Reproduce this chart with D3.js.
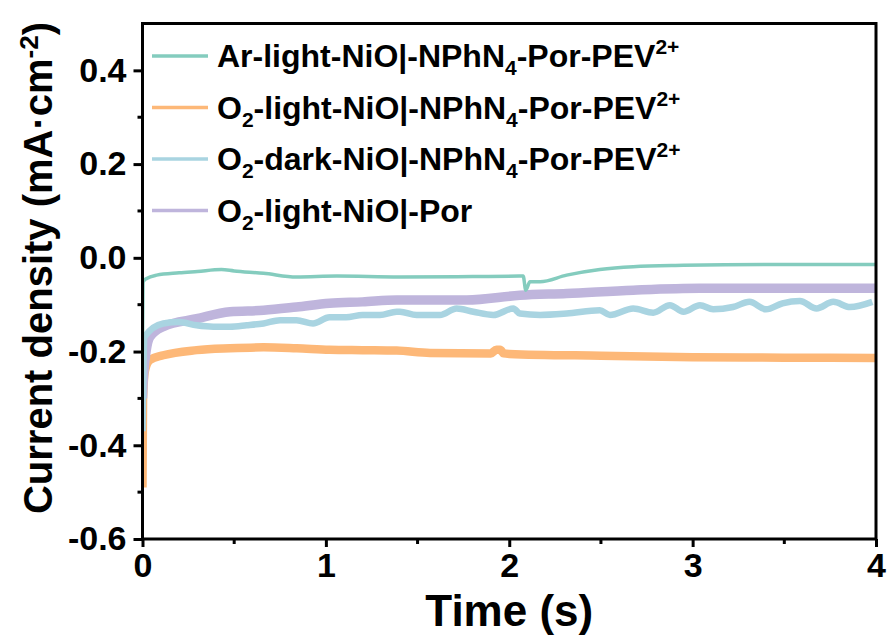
<!DOCTYPE html>
<html>
<head>
<meta charset="utf-8">
<script src="https://cdn.jsdelivr.net/npm/d3@7"></script>
<style>
  body { margin: 0; background: #fff; }
  text { font-family: Arial, "Liberation Sans", sans-serif; font-weight: bold; fill: #000; }
</style>
</head>
<body>
<div id="chart"></div>
<script>
// time (s) / current density (mA cm-2)
var arTime = [0, 0.004, 0.023, 0.077, 0.2, 0.3, 0.43, 0.5, 0.66, 0.84, 1.06, 1.4, 1.8, 2.076, 2.09, 2.113, 2.168, 2.313, 2.494, 2.676, 2.95, 3.4, 4.0];
var arVal = [-0.2, -0.051, -0.044, -0.037, -0.032, -0.029, -0.025, -0.028, -0.033, -0.041, -0.039, -0.041, -0.04, -0.039, -0.069, -0.051, -0.051, -0.037, -0.025, -0.019, -0.016, -0.014, -0.014];

var o2LightTime = [0, 0.003, 0.014, 0.04, 0.113, 0.295, 0.477, 0.66, 0.84, 1.02, 1.2, 1.386, 1.568, 1.9, 1.93, 1.95, 1.97, 2.0, 2.5, 3.0, 3.5, 4.0];
var o2LightVal = [-0.49, -0.3, -0.24, -0.218, -0.208, -0.197, -0.193, -0.191, -0.193, -0.196, -0.197, -0.198, -0.203, -0.204, -0.196, -0.196, -0.204, -0.205, -0.209, -0.212, -0.213, -0.214];

var o2DarkTime = [0, 0.004, 0.01, 0.113, 0.2, 0.295, 0.386, 0.477, 0.568, 0.66, 0.75, 0.84, 0.93, 1.02, 1.11, 1.2, 1.295, 1.386, 1.404, 1.495, 1.622, 1.713, 1.804, 1.913, 2.022, 2.058, 2.168, 2.313, 2.494, 2.549, 2.676, 2.785, 2.876, 2.95, 3.04, 3.112, 3.22, 3.31, 3.4, 3.49, 3.585, 3.676, 3.767, 3.858, 3.98];
var o2DarkVal = [-0.37, -0.26, -0.169, -0.14, -0.137, -0.144, -0.147, -0.147, -0.144, -0.14, -0.133, -0.133, -0.14, -0.127, -0.127, -0.122, -0.122, -0.115, -0.115, -0.122, -0.122, -0.108, -0.115, -0.122, -0.108, -0.119, -0.122, -0.119, -0.112, -0.122, -0.108, -0.117, -0.101, -0.115, -0.101, -0.11, -0.105, -0.094, -0.11, -0.097, -0.092, -0.108, -0.094, -0.105, -0.094];

var porTime = [0, 0.005, 0.04, 0.113, 0.295, 0.477, 0.66, 0.84, 1.02, 1.2, 1.386, 1.568, 1.768, 2.058, 2.313, 2.676, 3.04, 3.4, 4.0];
var porVal = [-0.3, -0.254, -0.169, -0.147, -0.13, -0.115, -0.112, -0.105, -0.097, -0.094, -0.09, -0.09, -0.09, -0.08, -0.076, -0.069, -0.065, -0.065, -0.065];

var seriesColors = ["#84ccbe", "#fdb878", "#a9d4e1", "#bfb5dc"];
var xTicks = [0, 1, 2, 3, 4];
var yTicks = [-0.6, -0.4, -0.2, 0.0, 0.2, 0.4];

var svgWidth = 887;
var svgHeight = 639;
var plot = { left: 142.5, right: 876, top: 23.5, bottom: 539 };

var svg = d3.select("#chart")
  .append("svg")
  .attr("width", svgWidth)
  .attr("height", svgHeight);

var x = d3.scaleLinear().domain([0, 4]).range([plot.left, plot.right]);
var y = d3.scaleLinear().domain([-0.6, 0.5]).range([plot.bottom, plot.top]);

var line = d3.line()
  .curve(d3.curveMonotoneX)
  .x(d => x(d[0]))
  .y(d => y(d[1]));

function pairs(t, v) {
  return t.map((d, i) => [d, v[i]]);
}

// draw order: orange, purple, blue, teal
var curves = [
  { data: pairs(o2LightTime, o2LightVal), color: seriesColors[1], w: 8.5 },
  { data: pairs(porTime, porVal), color: seriesColors[3], w: 9.5 },
  { data: pairs(o2DarkTime, o2DarkVal), color: seriesColors[2], w: 6.5 },
  { data: pairs(arTime, arVal), color: seriesColors[0], w: 3.5 }
];

svg.append("defs").append("clipPath").attr("id", "clip")
  .append("rect")
  .attr("x", plot.left).attr("y", plot.top)
  .attr("width", plot.right - plot.left).attr("height", plot.bottom - plot.top);

svg.append("g")
  .attr("clip-path", "url(#clip)")
  .selectAll("path")
  .data(curves)
  .enter()
  .append("path")
  .attr("d", d => line(d.data))
  .attr("fill", "none")
  .attr("stroke", d => d.color)
  .attr("stroke-width", d => d.w)
  .attr("stroke-linejoin", "round");

// axes
var bottomAxis = d3.axisBottom(x).tickValues(xTicks).tickSize(8).tickPadding(6).tickFormat(d => d.toFixed(0));
var leftAxis = d3.axisLeft(y).tickValues(yTicks).tickSize(9).tickPadding(7).tickFormat(d => d.toFixed(1));

var xAxis = svg.append("g")
  .attr("transform", `translate(0, ${plot.bottom})`)
  .call(bottomAxis);

var yAxis = svg.append("g")
  .attr("transform", `translate(${plot.left}, 0)`)
  .call(leftAxis);

// minor ticks
svg.append("g").selectAll("line")
  .data([0.5, 1.5, 2.5, 3.5])
  .enter().append("line")
  .attr("x1", d => x(d)).attr("x2", d => x(d))
  .attr("y1", plot.bottom).attr("y2", plot.bottom + 5)
  .attr("stroke", "#000").attr("stroke-width", 3);

svg.append("g").selectAll("line")
  .data([-0.5, -0.3, -0.1, 0.1, 0.3])
  .enter().append("line")
  .attr("y1", d => y(d)).attr("y2", d => y(d))
  .attr("x1", plot.left).attr("x2", plot.left - 5)
  .attr("stroke", "#000").attr("stroke-width", 3);

[xAxis, yAxis].forEach(function(a) {
  a.select(".domain").remove();
  a.selectAll("line").attr("stroke", "#000").attr("stroke-width", 3);
  a.selectAll("text")
    .style("font-size", "34px")
    .style("font-family", "Arial, 'Liberation Sans', sans-serif")
    .style("font-weight", "bold")
    .attr("fill", "#000");
});

// frame
svg.append("rect")
  .attr("x", plot.left).attr("y", plot.top)
  .attr("width", plot.right - plot.left).attr("height", plot.bottom - plot.top)
  .attr("fill", "none")
  .attr("stroke", "#000")
  .attr("stroke-width", 3);

// axis titles
svg.append("text")
  .attr("x", (plot.left + plot.right) / 2)
  .attr("y", 626)
  .attr("text-anchor", "middle")
  .style("font-size", "44px")
  .text("Time (s)");

var yTitle = svg.append("text")
  .attr("transform", "translate(52, 268) rotate(-90)")
  .attr("text-anchor", "middle")
  .style("font-size", "40px");
yTitle.append("tspan").text("Current density (mA·cm");
yTitle.append("tspan").attr("dy", -14).style("font-size", "26px").text("-2");
yTitle.append("tspan").attr("dy", 14).text(")");

// legend
var legendLabels = [
  [["Ar-light-NiO|-NPhN", 0], ["4", 1], ["-Por-PEV", 0], ["2+", 2]],
  [["O", 0], ["2", 1], ["-light-NiO|-NPhN", 0], ["4", 1], ["-Por-PEV", 0], ["2+", 2]],
  [["O", 0], ["2", 1], ["-dark-NiO|-NPhN", 0], ["4", 1], ["-Por-PEV", 0], ["2+", 2]],
  [["O", 0], ["2", 1], ["-light-NiO|-Por", 0]]
];

var legend = svg.append("g");
legendLabels.forEach(function(parts, i) {
  var ly = 56 + i * 51.5;
  legend.append("line")
    .attr("x1", 152).attr("x2", 208)
    .attr("y1", ly).attr("y2", ly)
    .attr("stroke", seriesColors[i])
    .attr("stroke-width", 3.5);
  var t = legend.append("text")
    .attr("x", 217)
    .attr("y", ly + 11)
    .style("font-size", "32px");
  var shift = 0;
  parts.forEach(function(p) {
    var dy = 0;
    if (p[1] === 1) dy = 8;
    if (p[1] === 2) dy = -13;
    t.append("tspan")
      .attr("dy", dy - shift)
      .style("font-size", p[1] ? "21px" : "32px")
      .text(p[0]);
    shift = dy;
  });
});
</script>
</body>
</html>
